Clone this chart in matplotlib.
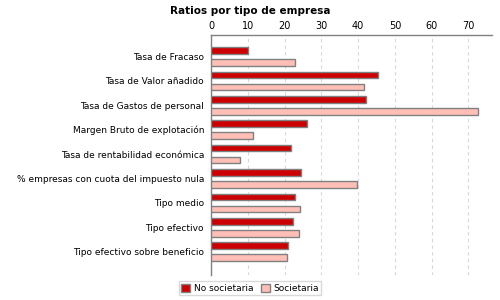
import matplotlib.pyplot as plt
import numpy as np
from matplotlib.patches import Patch

categories = [
    "Tasa de Fracaso",
    "Tasa de Valor añadido",
    "Tasa de Gastos de personal",
    "Margen Bruto de explotación",
    "Tasa de rentabilidad económica",
    "% empresas con cuota del impuesto nula",
    "Tipo medio",
    "Tipo efectivo",
    "Tipo efectivo sobre beneficio",
]
no_societaria = [10.0, 45.3, 42.2, 26.1, 21.7, 24.5, 22.9, 22.3, 20.9]
societaria = [22.9, 41.6, 72.7, 11.4, 7.8, 39.7, 24.3, 23.9, 20.6]
xticks = [0, 10, 20, 30, 40, 50, 60, 70]

red = "#cc0000"
pink = "#ffbfb6"
edge = "#808080"

fig = plt.figure(figsize=(5, 3), dpi=100)
ax = fig.add_axes([0.422, 0.083, 0.562, 0.801])

y = np.arange(len(categories))
h = 0.27
off = 0.246
ax.barh(y - off, no_societaria, height=h, color=red, edgecolor=edge, linewidth=1, zorder=3)
ax.barh(y + off, societaria, height=h, color=pink, edgecolor=edge, linewidth=1, zorder=3)

ax.set_xlim(0, 76.4)
ax.set_ylim(8.96, -0.885)
ax.set_xticks(xticks)
ax.xaxis.tick_top()
ax.tick_params(axis="x", length=0, pad=3, labelsize=7)
ax.tick_params(axis="y", length=0, pad=5, labelsize=6.5)
ax.set_yticks(y)
ax.set_yticklabels(categories)
ax.grid(axis="x", color="#d8d8d8", linestyle=(0, (3, 3)), linewidth=0.8, zorder=0)

for s in ["right", "bottom"]:
    ax.spines[s].set_visible(False)
for s in ["top", "left"]:
    ax.spines[s].set_color(edge)
    ax.spines[s].set_linewidth(1)

fig.text(0.5, 0.965, "Ratios por tipo de empresa", ha="center", va="center",
         fontsize=7.5, fontweight="bold")

handles = [
    Patch(facecolor=red, edgecolor=edge, label="No societaria"),
    Patch(facecolor=pink, edgecolor=edge, label="Societaria"),
]
fig.legend(handles=handles, loc="lower center", bbox_to_anchor=(0.5, 0.0), ncol=2,
           fontsize=6.5, frameon=True, fancybox=False, edgecolor="#d0d0d0",
           handlelength=1, handleheight=1, handletextpad=0.4, columnspacing=0.8,
           borderpad=0.3)

fig.savefig("out.png", dpi=100)
